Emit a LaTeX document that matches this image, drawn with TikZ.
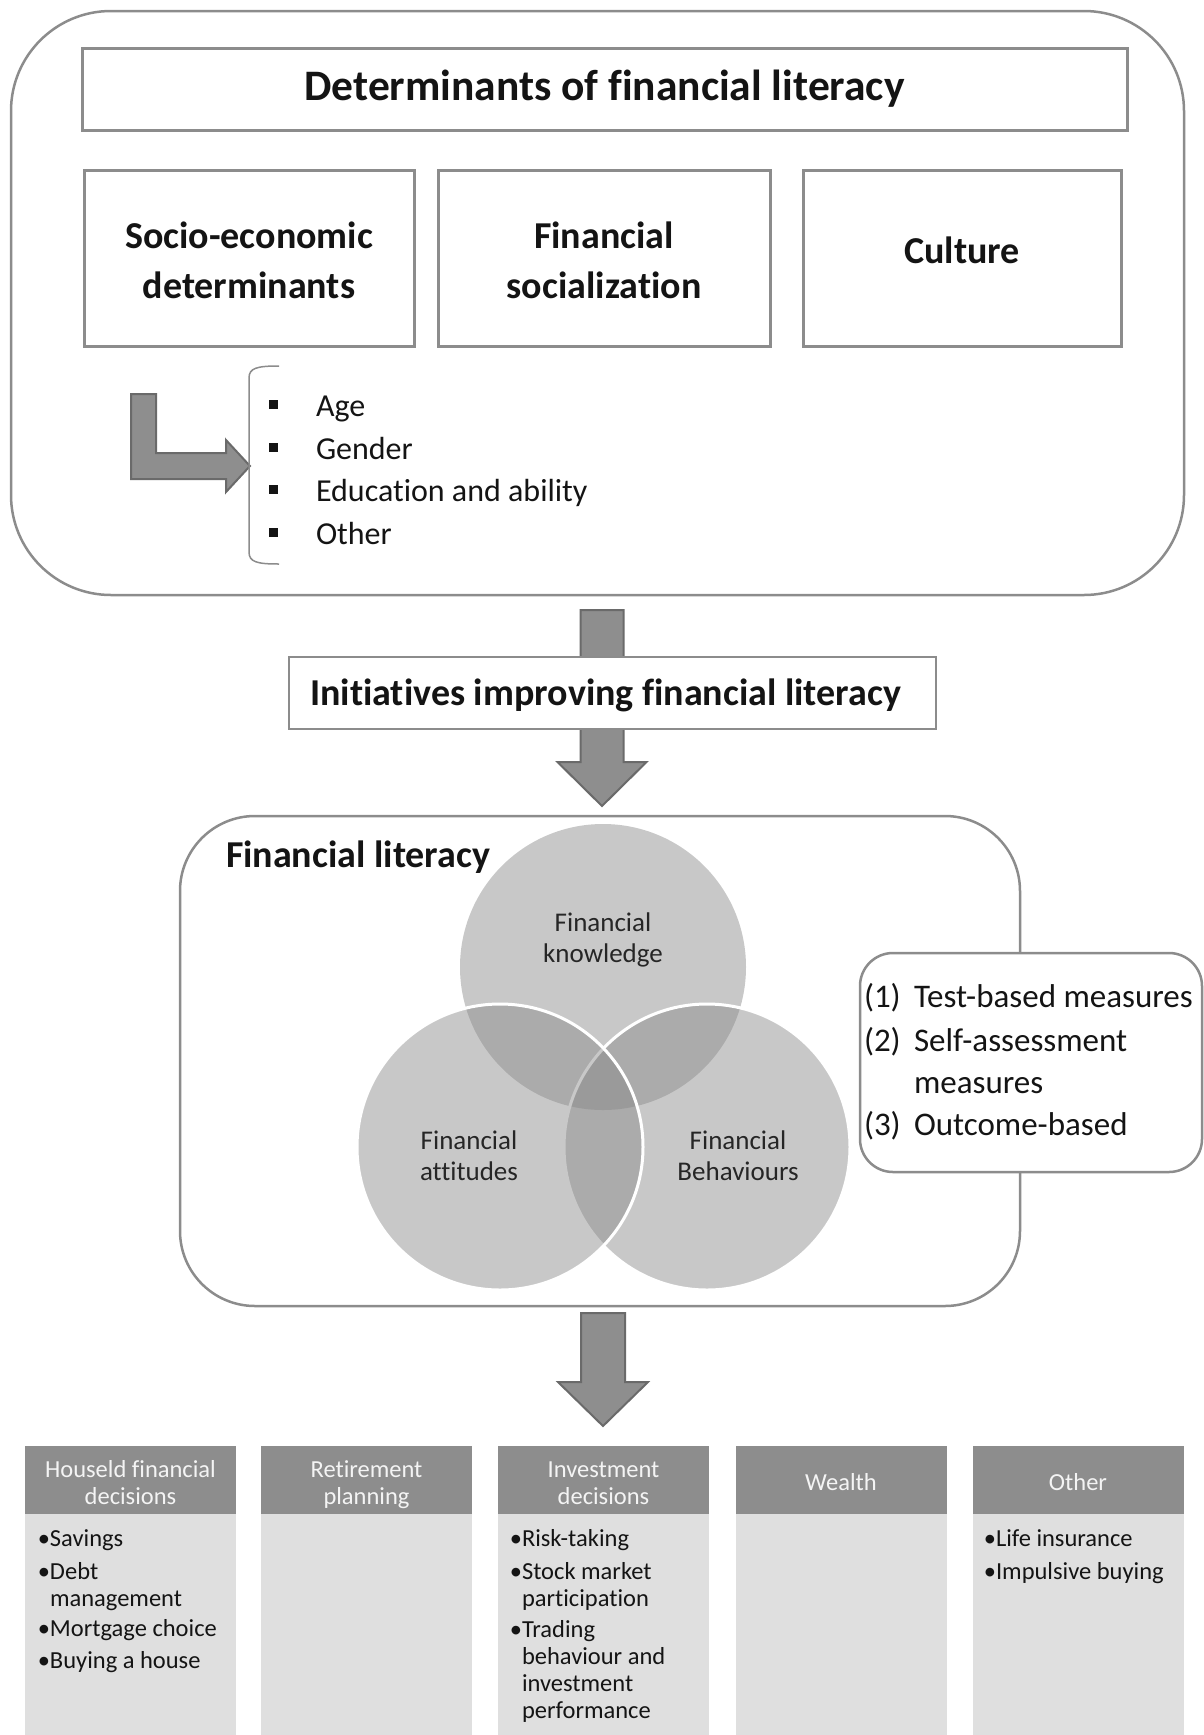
\documentclass[tikz,border=0pt]{standalone}
\usepackage{fontspec}
\setmainfont{Carlito}[Ligatures=NoCommon]
\usetikzlibrary{calc}

\definecolor{frame}{HTML}{8C8C8C}
\definecolor{arrowgray}{HTML}{8E8E8E}
\definecolor{arrowedge}{HTML}{6A6A6A}
\definecolor{headgray}{HTML}{8D8D8D}
\definecolor{headtext}{HTML}{F4F4F4}
\definecolor{bodygray}{HTML}{DFDFDF}
\definecolor{vennfill}{HTML}{868686}
\definecolor{ink}{HTML}{141414}

\newcommand\fsz[2]{\fontsize{#1}{#2}\selectfont}

\begin{document}
\begin{tikzpicture}[x=1pt,y=-1pt,
  every node/.style={inner sep=0pt, outer sep=0pt, text=ink},
  panel/.style={draw=frame, line width=2.5pt, rounded corners=#1},
  sqbox/.style={draw=frame, line width=3pt, fill=white},
  boxtext/.style={align=center, font=\bfseries\fsz{38}{50}},
  blockarrow/.style={fill=arrowgray, draw=arrowedge, line width=2pt, line join=miter},
  listitem/.style={anchor=base west, font=\fsz{32}{40}},
  sqbullet/.style={fill=ink, minimum size=9pt},
  venn/.style={circle, minimum size=286pt, fill=vennfill, fill opacity=.45, text opacity=1},
  vennlabel/.style={align=center, font=\fsz{27}{31}, text=black!85},
  colhead/.style={fill=headgray, minimum width=211pt, minimum height=68pt},
  headlabel/.style={align=center, text=headtext, font=\fsz{24.5}{27}},
  colbody/.style={fill=bodygray, minimum width=211pt, minimum height=226pt},
  coltext/.style={anchor=base west, align=left, font=\fsz{24.5}{27}},
  measitem/.style={anchor=base west, align=left, font=\fsz{33}{42.5}},
]
\useasboundingbox (0,0) rectangle (1203,1735);

% ---------- determinants panel ----------
\node[panel=100pt, minimum width=1173pt, minimum height=584pt] (det) at (597.5,303) {};
\node[sqbox, minimum width=1045pt, minimum height=82pt] (title) at (604.5,89) {};
\node[font=\bfseries\fsz{43.5}{50}] (titlet) at (604.5,89) {Determinants of financial literacy};

\node[sqbox, minimum width=330pt, minimum height=176pt] (socio) at (249,258) {};
\node[sqbox, minimum width=332pt, minimum height=176pt] (social) at (604,258) {};
\node[sqbox, minimum width=318pt, minimum height=176pt] (culture) at (962,258) {};
\node[boxtext] (sociot) at (249,260.5) {Socio-economic\\determinants};
\node[boxtext] (socialt) at (604,260.5) {Financial\\socialization};
\node[boxtext] (culturet) at (962,250) {Culture};

% bent arrow into the list of socio-economic factors
\draw[blockarrow] (131,394) -- (156,394) -- (156,453) -- (226,453) -- (226,440)
  -- (250,466) -- (226,492) -- (226,479) -- (131,479) -- cycle;
% bracket in front of the list
\draw[frame, line width=1.5pt] (279,366) .. controls (257,366) and (249,368) .. (249,378)
  -- (249,552) .. controls (249,562) and (257,564) .. (279,564);

\node[sqbullet] (b1) at (273.5,404) {};
\node[sqbullet] (b2) at (273.5,447) {};
\node[sqbullet] (b3) at (273.5,489) {};
\node[sqbullet] (b4) at (273.5,532) {};
\node[listitem] (age)    at (316,416) {Age};
\node[listitem] (gender) at (316,459) {Gender};
\node[listitem] (edu)    at (316,501) {Education and ability};
\node[listitem] (oth)    at (316,544) {Other};

% ---------- initiatives ----------
\coordinate (a1) at (602,610);
\draw[blockarrow] (a1) ++(-21.5,0) -- ++(43,0) -- ++(0,152) -- ++(23,0)
  -- ++(-44.5,44) -- ++(-44.5,-44) -- ++(23,0) -- cycle;
\node[draw=frame, line width=2.5pt, fill=white, minimum width=647pt, minimum height=72pt]
  (init) at (612.5,693) {};
\node[anchor=base, font=\bfseries\fsz{38}{44}] (inittext) at (605.5,705)
  {Initiatives improving financial literacy};

% ---------- financial literacy ----------
\node[panel=75pt, minimum width=840pt, minimum height=490pt] (fl) at (600,1061) {};
\node[anchor=base west, font=\bfseries\fsz{38}{44}] (fltext) at (226,867) {Financial literacy};

\node[venn] (know) at (603,967) {};
\node[venn, draw=white, line width=3pt] (behav) at (707,1147) {};
\node[venn, draw=white, line width=3pt] (attit) at (500,1147) {};
\node[vennlabel] (knowt) at (603,939.5) {Financial\\knowledge};
\node[vennlabel] (attitt) at (469,1156) {Financial\\attitudes};
\node[vennlabel] (behavt) at (738,1156) {Financial\\Behaviours};

% measurement approaches (base anchor of a multi-line node = its last line)
\node[panel=33pt, fill=white, minimum width=342pt, minimum height=219pt] (meas) at (1031,1062.5) {};
\node[measitem] (m1) at (864,1007) {(1)};
\node[measitem] (m1t) at (914,1007) {Test-based measures};
\node[measitem] (m2) at (864,1051) {(2)};
\node[measitem] (m2t) at (914,1093.5) {Self-assessment\\measures};
\node[measitem] (m3) at (864,1135) {(3)};
\node[measitem] (m3t) at (914,1135) {Outcome-based};

% ---------- outcomes ----------
\coordinate (a2) at (603,1313);
\draw[blockarrow] (a2) ++(-22,0) -- ++(44,0) -- ++(0,69) -- ++(23,0)
  -- ++(-45,44) -- ++(-45,-44) -- ++(23,0) -- cycle;

\node[colbody] (c1) at (130.5,1627) {};
\node[colbody] (c2) at (366.5,1627) {};
\node[colbody] (c3) at (603.5,1627) {};
\node[colbody] (c4) at (841,1627) {};
\node[colbody] (c5) at (1078,1627) {};
\node[colhead] (h1) at (130.5,1480) {};
\node[colhead] (h2) at (366.5,1480) {};
\node[colhead] (h3) at (603.5,1480) {};
\node[colhead] (h4) at (841,1480) {};
\node[colhead] (h5) at (1078,1480) {};
\node[headlabel] (h1t) at (130.5,1483) {Houseld financial\\decisions};
\node[headlabel] (h2t) at (366.5,1484.5) {Retirement\\planning};
\node[headlabel] (h3t) at (603.5,1483) {Investment\\decisions};
\node[headlabel] (h4t) at (841,1482) {Wealth};
\node[headlabel] (h5t) at (1078,1482) {Other};

\node[coltext] (s1) at (50,1546) {\llap{•}Savings};
\node[coltext] (s2) at (50,1606) {\llap{•}Debt\\management};
\node[coltext] (s3) at (50,1636) {\llap{•}Mortgage choice};
\node[coltext] (s4) at (50,1668) {\llap{•}Buying a house};

\node[coltext] (i1) at (522,1546) {\llap{•}Risk-taking};
\node[coltext] (i2) at (522,1606) {\llap{•}Stock market\\participation};
\node[coltext] (i3) at (522,1718) {\llap{•}Trading\\behaviour and\\investment\\performance};

\node[coltext] (o1) at (996,1546) {\llap{•}Life insurance};
\node[coltext] (o2) at (996,1579) {\llap{•}Impulsive buying};
\end{tikzpicture}
\end{document}
